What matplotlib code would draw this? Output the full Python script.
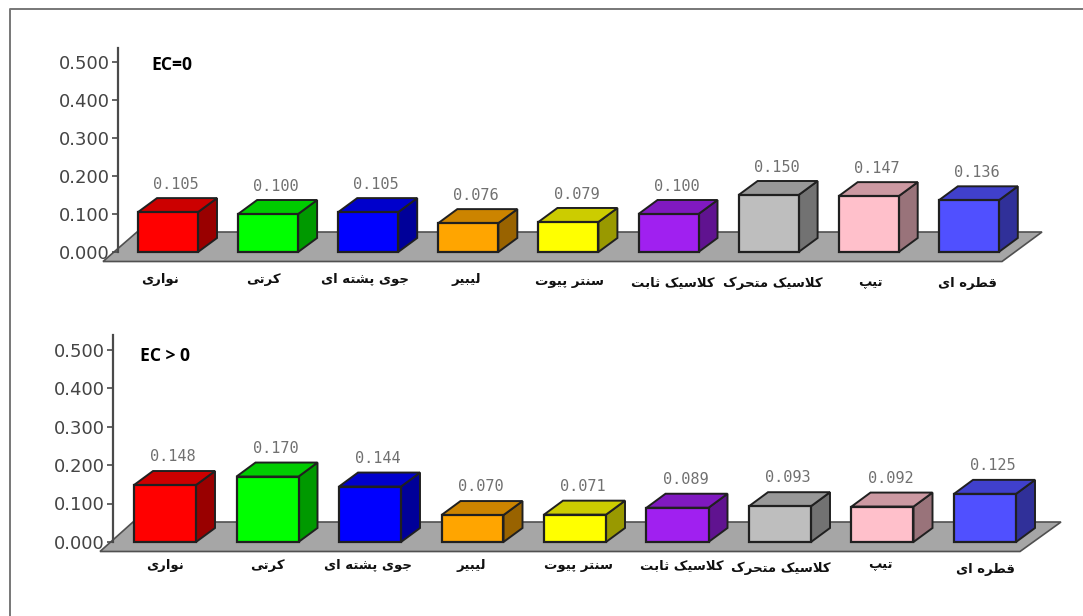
import matplotlib as mpl
mpl.use("Agg")
import matplotlib.pyplot as plt
from matplotlib.patches import Polygon

categories = ["نواری", "کرتی", "جوی پشته ای", "لیبیر", "سنتر پیوت",
              "کلاسیک ثابت", "کلاسیک متحرک", "تیپ", "قطره ای"]
values_ec0 = [0.105, 0.100, 0.105, 0.076, 0.079, 0.100, 0.150, 0.147, 0.136]
values_ec1 = [0.148, 0.170, 0.144, 0.070, 0.071, 0.089, 0.093, 0.092, 0.125]
y_ticks = [0.0, 0.1, 0.2, 0.3, 0.4, 0.5]

front_colors = ["#ff0000", "#00ff00", "#0000ff", "#ffa500", "#ffff00",
                "#a020f0", "#bebebe", "#ffc0cb", "#5050ff"]
top_colors = ["#cc0000", "#00cc00", "#0000cc", "#cc8400", "#cccc00",
              "#8019c0", "#989898", "#cc99a2", "#4040cc"]
side_colors = ["#990000", "#009900", "#000099", "#996300", "#999900",
               "#601390", "#727272", "#99737a", "#303099"]

# label nudges in pixels, the labels in the picture are not aligned to the bars
label_dx_ec0 = [-8, -5, -3, -2, 1, 4, 4, 2, -1]
label_dy_ec0 = [-27, -27, -27, -27, -29, -31, -31, -31, -31]
label_dx_ec1 = [0, 0, -2, -1, 4, 4, 1, -2, 0]
label_dy_ec1 = [-23, -23, -23, -23, -24, -24, -26, -23, -27]

W, H = 1083, 616

# isolated, final, initial, medial
FORMS = {
    "ا": "\uFE8D\uFE8E", "د": "\uFEA9\uFEAA", "ر": "\uFEAD\uFEAE",
    "ز": "\uFEAF\uFEB0", "و": "\uFEED\uFEEE",
    "ب": "\uFE8F\uFE90\uFE91\uFE92", "پ": "\uFB56\uFB57\uFB58\uFB59",
    "ت": "\uFE95\uFE96\uFE97\uFE98", "ث": "\uFE99\uFE9A\uFE9B\uFE9C",
    "ج": "\uFE9D\uFE9E\uFE9F\uFEA0", "ح": "\uFEA1\uFEA2\uFEA3\uFEA4",
    "س": "\uFEB1\uFEB2\uFEB3\uFEB4", "ش": "\uFEB5\uFEB6\uFEB7\uFEB8",
    "ط": "\uFEC1\uFEC2\uFEC3\uFEC4", "ق": "\uFED5\uFED6\uFED7\uFED8",
    "ک": "\uFB8E\uFB8F\uFB90\uFB91", "ل": "\uFEDD\uFEDE\uFEDF\uFEE0",
    "م": "\uFEE1\uFEE2\uFEE3\uFEE4", "ن": "\uFEE5\uFEE6\uFEE7\uFEE8",
    "ه": "\uFEE9\uFEEA\uFEEB\uFEEC", "ی": "\uFBFC\uFBFD\uFBFE\uFBFF",
}


def shape(text):
    """matplotlib has no Arabic shaping, so pick the glyph forms and reverse."""
    text = text.replace("لا", "\uFEFB")
    out = []
    for i, ch in enumerate(text):
        prev = text[i - 1] if i > 0 else " "
        nxt = text[i + 1] if i < len(text) - 1 else " "
        if ch == "\uFEFB":
            joined = prev in FORMS and len(FORMS[prev]) == 4
            out.append("\uFEFC" if joined else ch)
        elif ch not in FORMS:
            out.append(ch)
        else:
            forms = FORMS[ch]
            before = prev in FORMS and len(FORMS[prev]) == 4
            after = len(forms) == 4 and (nxt in FORMS or nxt == "\uFEFB")
            if before and after:
                out.append(forms[3])
            elif after:
                out.append(forms[2])
            elif before:
                out.append(forms[1])
            else:
                out.append(forms[0])
    return "".join(reversed(out))


def plot_panel(fig, values, title, geom, label_dx, label_dy):
    axis_x, right, y0, y_top, per_unit = geom["axis_x"], geom["right"], geom["y0"], geom["y_top"], geom["per_unit"]
    step, first, bar_px = geom["step"], geom["first"], geom["bar_px"]

    ax = fig.add_axes([axis_x / W, 1 - y0 / H, (right - axis_x) / W, (y0 - y_top) / H])
    ax.set_xlim((axis_x - first) / step, (right - first) / step)
    ax.set_ylim(0, (y0 - y_top) / per_unit)
    ax.patch.set_visible(False)

    half = bar_px / step / 2
    dx = 19 / step
    dy = 14 / per_unit

    # floor
    fl = geom["floor"]
    below = -9.5 / per_unit
    above = 20 / per_unit
    floor = Polygon([((fl[0] - first) / step, below), ((fl[1] - first) / step, below),
                     ((fl[2] - first) / step, above), ((fl[3] - first) / step, above)],
                    facecolor="#a6a6a6", edgecolor="#505050", lw=1.2, clip_on=False, zorder=1)
    ax.add_patch(floor)

    for i, v in enumerate(values):
        l, r = i - half, i + half
        side = Polygon([(r, 0), (r + dx, dy), (r + dx, v + dy), (r, v)],
                       facecolor=side_colors[i], edgecolor="#202020", lw=1.4, clip_on=False, zorder=3)
        top = Polygon([(l, v), (r, v), (r + dx, v + dy), (l + dx, v + dy)],
                      facecolor=top_colors[i], edgecolor="#202020", lw=1.4, clip_on=False, zorder=3)
        front = Polygon([(l, 0), (r, 0), (r, v), (l, v)],
                        facecolor=front_colors[i], edgecolor="#202020", lw=1.6, clip_on=False, zorder=4)
        ax.add_patch(side)
        ax.add_patch(top)
        ax.add_patch(front)
        ax.annotate("%.3f" % v, (i, v + dy), xytext=(8, geom["value_pad"]), textcoords="offset pixels",
                    ha="center", va="bottom", family="DejaVu Sans Mono", fontsize=11, color="#707070")
        ax.annotate(shape(categories[i]), (i, 0), xytext=(label_dx[i], label_dy[i]),
                    textcoords="offset pixels", ha="center", va="center",
                    family="DejaVu Sans", fontweight="bold", fontsize=9.5, color="#111111")

    for s in ["top", "right", "bottom"]:
        ax.spines[s].set_visible(False)
    ax.spines["left"].set_color("#4a4a4a")
    ax.spines["left"].set_linewidth(1.6)
    ax.spines["left"].set_zorder(2)
    ax.set_xticks([])
    ax.set_yticks(y_ticks)
    ax.set_yticklabels(["%.3f" % t for t in y_ticks], fontsize=13, color="#444444")
    ax.tick_params(axis="y", length=4, width=1.2, color="#4a4a4a", pad=2)

    fig.text(geom["title_x"] / W, 1 - geom["title_y"] / H, title, family="Open Sans",
             fontweight="bold", fontsize=12.6, color="black", va="center")


fig = plt.figure(figsize=(W / 100, H / 100), dpi=100, facecolor="white")

# frame of the picture, only left and top are there
frame = fig.add_axes([0, 0, 1, 1])
frame.set_xlim(0, W)
frame.set_ylim(H, 0)
frame.axis("off")
frame.plot([10, 10, W], [H, 9, 9], color="#777777", lw=1.4)

plot_panel(fig, values_ec0, "EC=0",
           dict(axis_x=118, right=1045, y0=252, y_top=48, per_unit=380, step=100.1, first=168,
                bar_px=60, floor=(103, 1002, 1042, 137), title_x=151, title_y=65, value_pad=6),
           label_dx_ec0, label_dy_ec0)
plot_panel(fig, values_ec1, "EC > 0",
           dict(axis_x=113, right=1062, y0=542, y_top=335, per_unit=385, step=102.5, first=165,
                bar_px=62, floor=(100, 1020, 1061, 133), title_x=140, title_y=356, value_pad=7),
           label_dx_ec1, label_dy_ec1)

fig.savefig("out.png", dpi=100)
